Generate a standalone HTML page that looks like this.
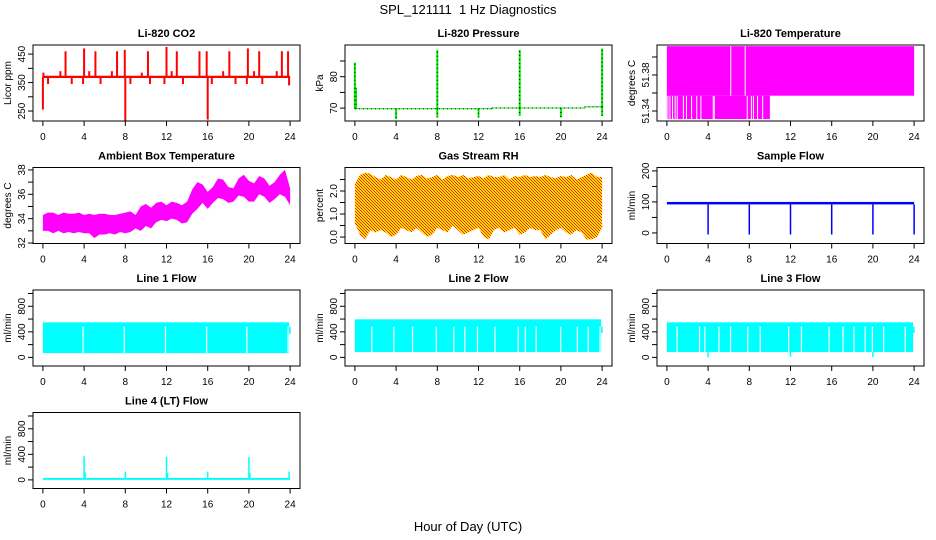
<!DOCTYPE html>
<html><head><meta charset="utf-8"><style>
html,body{margin:0;padding:0;background:#fff}
svg{display:block;font-family:"Liberation Sans",Arial,sans-serif}
</style></head><body>
<svg id="chart" width="936" height="540" viewBox="0 0 936 540">
<defs>
<pattern id="rhpat" width="3" height="3" patternUnits="userSpaceOnUse">
<rect width="3" height="3" fill="#ffe000"/><rect width="1" height="1" fill="#ff2000"/><rect x="1" y="1" width="1" height="1" fill="#ff2000"/><rect x="2" y="2" width="1" height="1" fill="#ff2000"/>
</pattern>
</defs>
<text x="468" y="14" text-anchor="middle" font-size="13" xml:space="preserve" style="white-space:pre">SPL_121111  1 Hz Diagnostics</text>
<text x="468" y="531" text-anchor="middle" font-size="13">Hour of Day (UTC)</text>
</svg>
<script>
// ---- data ----
const xTicks = [0,4,8,12,16,20,24];
const co2Base = 370;
const co2SpikeHours = [0.0,0.05,0.5,1.7,2.2,2.8,3.9,4.0,4.5,5.1,5.6,6.7,7.2,7.95,8.0,8.5,9.6,10.2,10.4,11.8,12.0,12.5,13.0,13.6,15.2,15.9,16.0,16.4,17.5,18.1,18.7,19.8,19.9,20.5,21.0,21.3,22.7,23.2,23.8,23.9];
const co2SpikeValues = [255,385,345,390,460,345,345,470,390,460,345,390,460,465,215,345,385,460,345,345,475,390,460,345,460,460,220,345,390,460,345,345,470,390,460,345,390,460,460,340];
const presStart = [0,13.3,22.3];
const presEnd = [13.3,22.3,24];
const presLevel = [69.8,70.05,70.4];
const presSpikeHours = [0.0,0.1,4.0,8.0,8.0,12.0,16.0,16.0,20.0,24.0,24.0];
const presSpikeValues = [84.5,76.5,66.5,88.5,67,67,88.5,67.5,67,89,67.5];
const tempUpper = [51.357,51.412];
const tempLower = [51.331,51.357];
const tempLowerEnd = 10;
const tempUpperGaps = [6.2,7.6];
const tempLowerGaps = [0.1,0.3,0.55,0.8,1.0,1.6,1.9,2.4,2.9,3.3,4.5,4.6,7.8,8.2,8.4,8.8,9.3];
const ambHours = [0,0.5,1,1.5,2,2.5,3,3.5,4,4.5,5,5.5,6,6.5,7,7.5,8,8.5,9,9.5,10,10.5,11,11.5,12,12.5,13,13.5,14,14.5,15,15.5,16,16.5,17,17.5,18,18.5,19,19.5,20,20.5,21,21.5,22,22.5,23,23.5,24];
const ambHi = [34.3,34.5,34.5,34.3,34.5,34.4,34.4,34.5,34.3,34.4,34.3,34.4,34.4,34.3,34.3,34.4,34.5,34.6,34.3,35.0,35.2,34.9,35.3,35.4,35.1,35.4,35.3,35.1,35.4,36.4,37.0,36.8,36.2,36.6,37.3,37.2,36.6,36.5,37.3,37.6,37.1,36.9,37.5,37.3,36.7,37.0,37.6,38.0,36.5];
const ambLo = [33.0,33.0,32.8,33.0,32.8,32.9,32.8,32.9,32.8,32.8,32.4,32.7,32.7,32.8,32.7,32.9,32.8,32.9,33.2,33.0,33.4,33.2,33.7,33.9,33.8,34.0,33.9,33.6,33.7,34.4,34.8,35.3,34.8,35.3,35.7,35.6,35.3,35.4,35.9,35.8,35.4,35.4,36.0,35.8,35.3,35.6,36.0,35.8,35.1];
const rhHi = [2.3,2.7,2.8,2.75,2.6,2.5,2.7,2.6,2.5,2.7,2.6,2.5,2.65,2.7,2.55,2.6,2.7,2.5,2.65,2.7,2.6,2.7,2.55,2.6,2.65,2.55,2.7,2.6,2.6,2.7,2.5,2.65,2.6,2.7,2.6,2.65,2.6,2.7,2.6,2.55,2.65,2.6,2.7,2.5,2.6,2.7,2.8,2.6,2.6];
const rhLo = [0.6,0.1,-0.1,0.3,0.2,0.3,0.2,0.0,0.1,0.4,0.3,0.2,0.4,0.2,0.0,0.1,0.4,0.3,0.2,0.5,0.3,0.1,0.2,0.3,0.4,0.0,-0.1,0.3,0.4,0.2,0.3,0.4,0.1,0.2,0.4,0.3,0.3,-0.1,0.1,0.3,0.4,0.2,0.1,0.3,0.2,-0.1,-0.1,0.0,0.4];
const sfHi = 100, sfLo = 92;
const sfDropHours = [4,8,12,16,20,24];
const sfDropValues = [-5,-5,-5,-5,-5,-5];
const l1Band = [67,549]; const l1Gaps = [3.9,7.9,11.9,15.9,19.8,23.8];
const l2Band = [83,596]; const l2Gaps = [1.64,3.78,5.6,7.9,9.6,10.67,11.9,13.6,15.85,16.55,17.6,19.98,21.6,22.65,23.8];
const l3Band = [83,549]; const l3Gaps = [0.99,3.17,3.68,5.05,6.18,7.85,9.06,11.82,13.06,15.75,17.1,18.16,19.25,19.95,21.04,23.14];
const l3DipHours = [4.0,12.0,20.0]; const l3DipValues = [0,10,5];
const l4Band = [0,30];
const l4SpikeHours = [4,4.1,8,12,12.1,16,20,20.1,23.9];
const l4SpikeValues = [370,120,130,360,110,130,360,110,130];

// ---- layout ----
const svg = document.getElementById('chart');
const NS = 'http://www.w3.org/2000/svg';
const colL = [33,345,657], W = 267, rowT = [45,167.5,290,412.5], H = 76;
const XMIN = -0.96, XMAX = 24.96;
function mk(tag, parent){ const e=document.createElementNS(NS,tag); parent.appendChild(e); return e; }
function panel(c, r, ylim, title, ytitle, yt, ylab, name){
  const g = mk('g', svg);
  
  
  const L=colL[c], T=rowT[r];
  const sx = v => L + (v-XMIN)/(XMAX-XMIN)*W;
  const sy = v => T + H - (v-ylim[0])/(ylim[1]-ylim[0])*H;
  const t = mk('text', g);
  
  
  t.setAttribute('x', L+W/2); t.setAttribute('y', T-8); t.setAttribute('text-anchor','middle');
  t.setAttribute('font-size','11'); t.setAttribute('font-weight','bold'); t.textContent = title;
  const yl = mk('text', g);
  
  
  yl.setAttribute('transform', `translate(${L-22},${T+H/2}) rotate(-90)`);
  yl.setAttribute('text-anchor','middle'); yl.setAttribute('font-size','10'); yl.textContent = ytitle;
  const data = mk('g', g);
  
  
  const ax = mk('g', g);
  
  
  const bx = mk('rect', ax);
  
  
  bx.setAttribute('x',L); bx.setAttribute('y',T); bx.setAttribute('width',W); bx.setAttribute('height',H);
  bx.setAttribute('fill','none'); bx.setAttribute('stroke','#000');
  xTicks.forEach(v=>{
    const x=sx(v);
    const tk=mk('line',ax);
    
    
    tk.setAttribute('x1',x);tk.setAttribute('x2',x);tk.setAttribute('y1',T+H);tk.setAttribute('y2',T+H+5);tk.setAttribute('stroke','#000');
    const lb=mk('text',ax);
    
    
    lb.setAttribute('x',x);lb.setAttribute('y',T+H+19);lb.setAttribute('text-anchor','middle');lb.setAttribute('font-size','10');lb.textContent=v;
  });
  yt.forEach((v,i)=>{
    const y=sy(v);
    const tk=mk('line',ax);
    
    
    tk.setAttribute('x1',L-5);tk.setAttribute('x2',L);tk.setAttribute('y1',y);tk.setAttribute('y2',y);tk.setAttribute('stroke','#000');
    if(ylab[i]!==''){
      const lb=mk('text',ax);
      
      
      lb.setAttribute('transform',`translate(${L-8},${y}) rotate(-90)`);lb.setAttribute('text-anchor','middle');lb.setAttribute('font-size','10');lb.textContent=ylab[i];
    }
  });
  return {g:data,sx,sy};
}
function vline(p,x,y1,y2,col,w,name,dash){
  const l=mk('line',p.g);
  
  
  l.setAttribute('x1',p.sx(x));l.setAttribute('x2',p.sx(x));l.setAttribute('y1',p.sy(y1));l.setAttribute('y2',p.sy(y2));
  l.setAttribute('stroke',col);l.setAttribute('stroke-width',w||1.5);
  if(dash) l.setAttribute('stroke-dasharray',dash);
  return l;
}
function band(p,x1,x2,y1,y2,col,name){
  const r=mk('rect',p.g);
  
  
  const a=p.sx(x1),b=p.sx(x2),c=p.sy(y2),d=p.sy(y1);
  r.setAttribute('x',a);r.setAttribute('y',c);r.setAttribute('width',b-a);r.setAttribute('height',d-c);r.setAttribute('fill',col);
  return r;
}
function area(p,xs,hi,lo,fill,name){
  const pts=xs.map((x,i)=>p.sx(x)+','+p.sy(hi[i])).concat(xs.slice().reverse().map((x,j)=>{const i=xs.length-1-j;return p.sx(x)+','+p.sy(lo[i]);}));
  const pg=mk('polygon',p.g);
  
  
  pg.setAttribute('points',pts.join(' '));pg.setAttribute('fill',fill);
  return pg;
}

// CO2
let p = panel(0,0,[215,482],'Li-820 CO2','Licor ppm',[250,300,350,400,450],['250','','350','','450'],'panel-co2');
band(p,0,24,co2Base-4,co2Base+4,'#ff0000','co2-baseline');
co2SpikeHours.forEach((h,i)=>vline(p,h,co2Base,co2SpikeValues[i],'#ff0000',2,'co2-spike'));

// Pressure
p = panel(1,0,[65.9,90.1],'Li-820 Pressure','kPa',[70,75,80,85],['70','','80',''],'panel-pressure');
presStart.forEach((s,i)=>{
  band(p,s,presEnd[i],presLevel[i]-0.15,presLevel[i]+0.15,'#00ee00','pressure-level');
  const l=mk('line',p.g);
  
  
  l.setAttribute('x1',p.sx(s));l.setAttribute('x2',p.sx(presEnd[i]));l.setAttribute('y1',p.sy(presLevel[i]));l.setAttribute('y2',p.sy(presLevel[i]));
  l.setAttribute('stroke','#000');l.setAttribute('stroke-dasharray','1 3');
});
presSpikeHours.forEach((h,i)=>{const b=presLevel[h<13.3?0:(h<22.3?1:2)];vline(p,h,b,presSpikeValues[i],'#00ee00',2,'pressure-spike');vline(p,h,b,presSpikeValues[i],'#000',1,'pressure-spike-dots','1 3');});

// Temperature
p = panel(2,0,[51.3289,51.4133],'Li-820 Temperature','degrees C',[51.34,51.36,51.38,51.40],['51.34','','51.38',''],'panel-li820-temp');
band(p,0,24,tempUpper[0],tempUpper[1],'#ff00ff','temp-upper-band');
band(p,0,tempLowerEnd,tempLower[0],tempLower[1],'#ff00ff','temp-lower-band');
tempUpperGaps.forEach(h=>vline(p,h,tempUpper[0],tempUpper[1],'#fff',1,'temp-gap'));
tempLowerGaps.forEach(h=>vline(p,h,tempLower[0],tempLower[1]-0.0003,'#fff',1,'temp-gap'));

// Ambient
p = panel(0,1,[31.96,38.2],'Ambient Box Temperature','degrees C',[32,33,34,35,36,37,38],['32','','34','','36','','38'],'panel-ambient-temp');
area(p,ambHours,ambHi,ambLo,'#ff00ff','ambient-temp-band');

// Gas RH
p = panel(1,1,[-0.28,3.02],'Gas Stream RH','percent',[0,0.5,1,1.5,2,2.5],['0.0','','1.0','','2.0',''],'panel-gas-rh');
area(p,ambHours,rhHi,rhLo,'url(#rhpat)','gas-rh-band');

// Sample flow
p = panel(2,1,[-34,211],'Sample Flow','ml/min',[0,50,100,150,200],['0','','100','','200'],'panel-sample-flow');
band(p,0,24,sfLo,sfHi,'#0000ff','sample-flow-band');
sfDropHours.forEach((h,i)=>vline(p,h,sfLo,sfDropValues[i],'#0000ff',1.5,'sample-flow-drop'));

const flowTicks=[0,200,400,600,800,1000], flowLab=['0','','400','','800',''];
function flowPanel(c,r,title,bandV,gaps,name){
  const q=panel(c,r,[-135,1055],title,'ml/min',flowTicks,flowLab,name);
  band(q,0,23.9,bandV[0],bandV[1],'#00ffff','flow-band');
  gaps.forEach(h=>vline(q,h,bandV[0]+5,480,'#fff',1.2,'flow-gap'));
  band(q,23.9,24.05,bandV[0]+300,480,'#00ffff','flow-tail');
  return q;
}
flowPanel(0,2,'Line 1 Flow',l1Band,l1Gaps,'panel-line1-flow');
flowPanel(1,2,'Line 2 Flow',l2Band,l2Gaps,'panel-line2-flow');
p = flowPanel(2,2,'Line 3 Flow',l3Band,l3Gaps,'panel-line3-flow');
l3DipHours.forEach((h,i)=>vline(p,h,l3Band[0],l3DipValues[i],'#00ffff',1.5,'line3-dip'));

p = panel(0,3,[-135,1055],'Line 4 (LT) Flow','ml/min',flowTicks,flowLab,'panel-line4-flow');
band(p,0,24,l4Band[0],l4Band[1],'#00ffff','line4-band');
l4SpikeHours.forEach((h,i)=>vline(p,h,l4Band[1],l4SpikeValues[i],'#00ffff',1.5,'line4-spike'));
</script>
</body></html>
